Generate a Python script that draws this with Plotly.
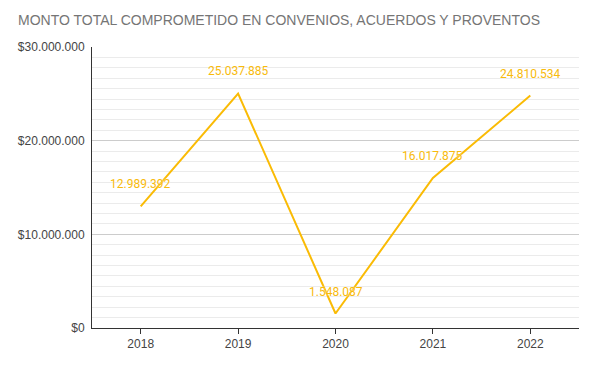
import plotly.graph_objects as go

years = ["2018", "2019", "2020", "2021", "2022"]
values = [12989392, 25037885, 1548087, 16017875, 24810534]
labels = ["12.989.392", "25.037.885", "1.548.087", "16.017.875", "24.810.534"]
y_tickvals = [0, 10000000, 20000000, 30000000]
y_ticktext = ["$0", "$10.000.000", "$20.000.000", "$30.000.000"]

line_color = "#FABB05"

fig = go.Figure()
fig.add_trace(go.Scatter(
    x=years, y=values, mode="lines",
    line=dict(color=line_color, width=2),
    hoverinfo="skip", showlegend=False,
))

annotations = []
for i, (y, t) in enumerate(zip(values, labels)):
    annotations.append(dict(
        x=i, y=y, xref="x", yref="y", text=t, showarrow=False, yshift=22,
        font=dict(family="Roboto, Liberation Sans, Arial", size=12, color="#F8BA0C",
                  shadow="0px 0px 2px white"),
    ))

# page body adds an 8px offset; the figure is sized to the visible area
W, H = 586, 357
fig.update_layout(
    template="none",
    width=W, height=H,
    margin=dict(l=84, r=15, t=39, b=37, autoexpand=False),
    paper_bgcolor="white", plot_bgcolor="white",
    font=dict(family="Liberation Sans, Arial", size=12, color="#444444"),
    annotations=annotations,
    title=dict(
        text="MONTO TOTAL COMPROMETIDO EN CONVENIOS, ACUERDOS Y PROVENTOS",
        x=10 / W, xanchor="left", xref="container", y=1 - 12 / H, yanchor="middle",
        yref="container",
        font=dict(family="Liberation Sans, Arial", size=14, color="#757575"),
    ),
    xaxis=dict(
        type="category", range=[-0.5, 4.5], automargin=False,
        showline=True, linecolor="#333333", linewidth=1,
        ticks="outside", ticklen=5, tickcolor="#333333",
        showgrid=False, zeroline=False,
        tickfont=dict(size=12, color="#444444"),
    ),
    yaxis=dict(
        range=[0, 30000000], automargin=False,
        tickvals=y_tickvals, ticktext=y_ticktext,
        showline=True, linecolor="#333333", linewidth=1,
        showgrid=True, gridcolor="#CCCCCC", gridwidth=1,
        zeroline=False, ticks="", ticklabelstandoff=4,
        tickfont=dict(size=12, color="#444444"),
        minor=dict(tick0=0, dtick=10000000 / 9, showgrid=True,
                   gridcolor="#EBEBEB", gridwidth=1, ticks=""),
    ),
)

fig.write_html("out.html")
